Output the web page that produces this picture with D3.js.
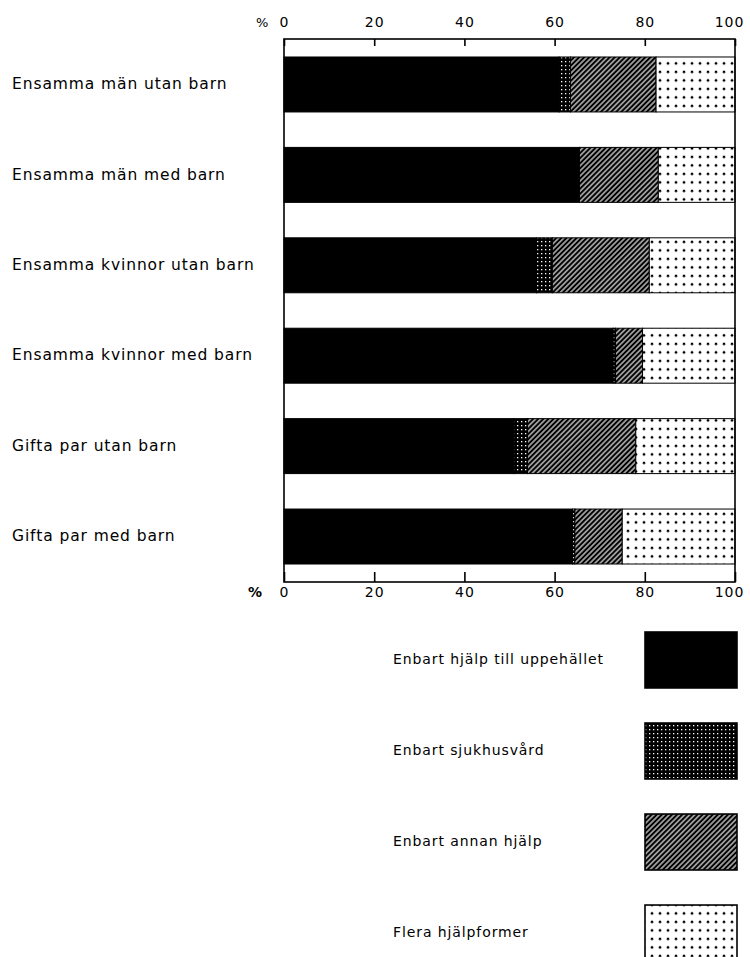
<!DOCTYPE html>
<html>
<head>
<meta charset="utf-8">
<script src="https://cdn.jsdelivr.net/npm/d3@7"></script>
<style>
  body { margin: 0; background: #fff; }
  text { font-family: "DejaVu Sans", sans-serif; fill: #000; }
</style>
</head>
<body>
<svg id="chart" width="750" height="957"></svg>
<script>
// categories (top to bottom)
const categories = [
  "Ensamma män utan barn",
  "Ensamma män med barn",
  "Ensamma kvinnor utan barn",
  "Ensamma kvinnor med barn",
  "Gifta par utan barn",
  "Gifta par med barn"
];
// series, percent of each group
const seriesNames = [
  "Enbart hjälp till uppehället",
  "Enbart sjukhusvård",
  "Enbart annan hjälp",
  "Flera hjälpformer"
];
const uppehalletValues = [61, 65.5, 56, 73, 51, 64];
const sjukhusValues = [2.5, 0, 3.5, 0.5, 3, 0.5];
const annanValues = [19, 17.5, 21.5, 6, 24, 10.5];
const fleraValues = [17.5, 17, 19, 20.5, 22, 25];
const tickValues = [0, 20, 40, 60, 80, 100];

const svg = d3.select("#chart");

const x = d3.scaleLinear().domain([0, 100]).range([284, 735]);
const y = d3.scaleBand().domain(categories).range([39, 582])
  .paddingInner(0.392).paddingOuter(0.199);

// patterns
const defs = svg.append("defs");
let p = defs.append("pattern").attr("id", "p-sjukhus")
  .attr("patternUnits", "userSpaceOnUse").attr("width", 4).attr("height", 4);
p.append("rect").attr("width", 4).attr("height", 4).attr("fill", "#000");
p.append("rect").attr("x", 1).attr("y", 1).attr("width", 1.3).attr("height", 1.3).attr("fill", "#fff");

p = defs.append("pattern").attr("id", "p-annan")
  .attr("patternUnits", "userSpaceOnUse").attr("width", 3.6).attr("height", 3.6)
  .attr("patternTransform", "rotate(45)");
p.append("rect").attr("width", 3.6).attr("height", 3.6).attr("fill", "#000");
p.append("line").attr("x1", 1.8).attr("x2", 1.8).attr("y1", 0).attr("y2", 3.6)
  .attr("stroke", "#fff").attr("stroke-width", 1.1);

p = defs.append("pattern").attr("id", "p-flera")
  .attr("patternUnits", "userSpaceOnUse").attr("width", 8).attr("height", 8.5);
p.append("rect").attr("width", 8).attr("height", 8.5).attr("fill", "#fff");
p.append("circle").attr("cx", 4).attr("cy", 4).attr("r", 1.3).attr("fill", "#000");

const fills = ["#000", "url(#p-sjukhus)", "url(#p-annan)", "url(#p-flera)"];

// stacked data
const rows = categories.map((c, i) => ({
  cat: c,
  s0: uppehalletValues[i], s1: sjukhusValues[i], s2: annanValues[i], s3: fleraValues[i]
}));
const stack = d3.stack().keys(["s0", "s1", "s2", "s3"]);
const layers = stack(rows);

const gBars = svg.append("g");
layers.forEach((layer, k) => {
  gBars.selectAll(null)
    .data(layer.filter(d => d[1] - d[0] > 0))
    .enter().append("rect")
    .attr("x", d => x(d[0]))
    .attr("y", d => y(d.data.cat))
    .attr("width", d => x(d[1]) - x(d[0]))
    .attr("height", y.bandwidth())
    .attr("fill", fills[k])
    .attr("stroke", "#000")
    .attr("stroke-width", 1);
});

// frame
svg.append("rect")
  .attr("x", x(0)).attr("y", 39)
  .attr("width", x(100) - x(0)).attr("height", 582 - 39)
  .attr("fill", "none").attr("stroke", "#000").attr("stroke-width", 1.6);

// axes
const fmt = d => String(d);
const axTop = svg.append("g").attr("transform", "translate(0,39)")
  .call(d3.axisTop(x).tickValues(tickValues).tickFormat(fmt).tickSize(-7).tickPadding(12));
const axBottom = svg.append("g").attr("transform", "translate(0,582)")
  .call(d3.axisBottom(x).tickValues(tickValues).tickFormat(fmt).tickSize(-10).tickPadding(5));
[axTop, axBottom].forEach(g => {
  g.select(".domain").remove();
  g.selectAll(".tick line").attr("stroke", "#000").attr("stroke-width", 1.6);
  g.selectAll(".tick text").attr("font-size", 14).attr("letter-spacing", 1)
    .attr("font-family", "DejaVu Sans");
  g.selectAll(".tick text").filter(d => d === 100).attr("dx", -6);
});

svg.append("text").attr("x", 256).attr("y", 27).attr("font-size", 13).text("%");
svg.append("text").attr("x", 248).attr("y", 597).attr("font-size", 14)
  .attr("font-weight", "bold").text("%");

// category labels
svg.append("g").selectAll("text")
  .data(categories).enter().append("text")
  .attr("x", 12)
  .attr("y", d => y(d) + y.bandwidth() / 2)
  .attr("dy", "0.3em")
  .attr("font-size", 15.5)
  .attr("letter-spacing", 0.9)
  .text(d => d);

// legend
const legendY = d3.scaleBand().domain(seriesNames).range([632, 961]).paddingInner(0.385);
const lg = svg.append("g");
lg.selectAll("rect").data(seriesNames).enter().append("rect")
  .attr("x", 645).attr("width", 92)
  .attr("y", d => legendY(d)).attr("height", legendY.bandwidth())
  .attr("fill", (d, i) => fills[i])
  .attr("stroke", "#000").attr("stroke-width", 1.6);
lg.selectAll("text").data(seriesNames).enter().append("text")
  .attr("x", 393)
  .attr("y", d => legendY(d) + legendY.bandwidth() / 2)
  .attr("dy", "0.3em")
  .attr("font-size", 14)
  .attr("letter-spacing", 0.9)
  .text(d => d);
</script>
</body>
</html>
